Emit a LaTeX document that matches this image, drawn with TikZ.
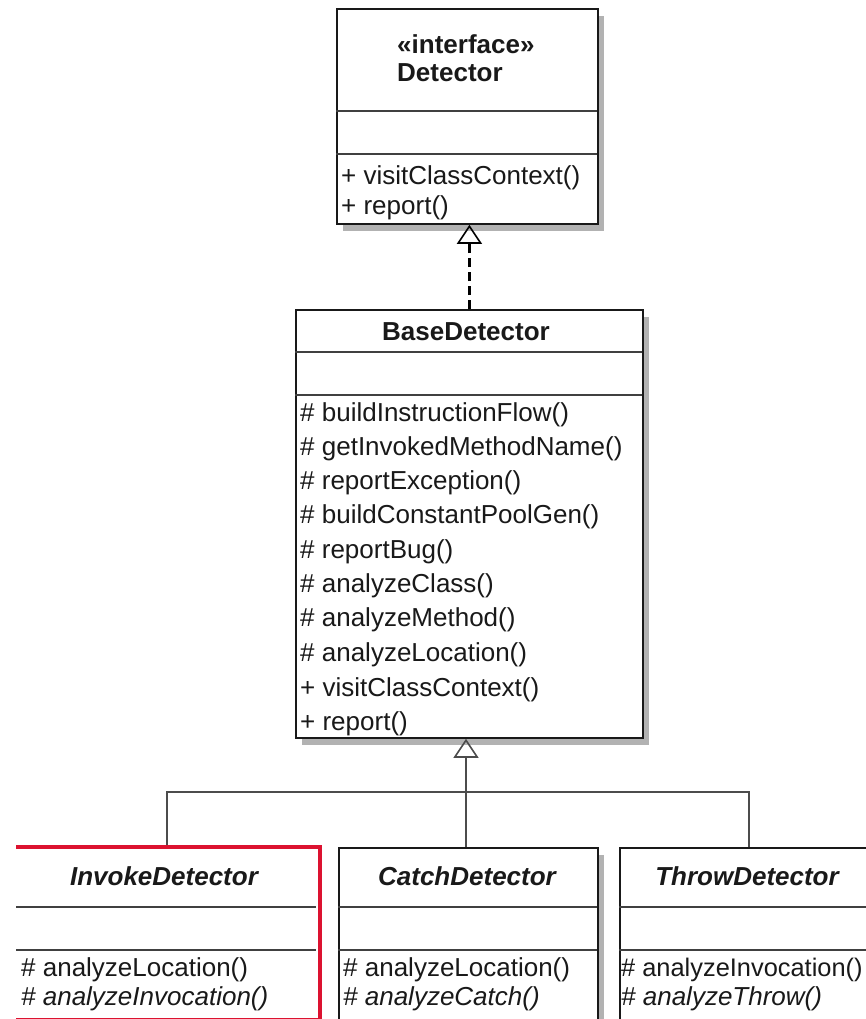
\documentclass[tikz,border=0pt]{standalone}
\usepackage{fontspec}
\setmainfont{Liberation Sans}
\usetikzlibrary{arrows.meta,shadows}
\definecolor{hotred}{RGB}{220,18,48}

\begin{document}
\begin{tikzpicture}[x=1pt,y=-1pt,
  txt/.style={font=\fontsize{26}{30}\selectfont, inner sep=0pt, text=black!90},
  member/.style={txt, anchor=mid west},
  absmember/.style={txt, anchor=mid west, font=\fontsize{26}{30}\selectfont\itshape},
  classname/.style={txt, font=\fontsize{26}{30}\selectfont\bfseries},
  absname/.style={txt, font=\fontsize{26}{30}\selectfont\bfseries\itshape},
  classbox/.style={draw=black!90, line width=1.8pt, fill=white, inner sep=0pt, anchor=north west},
  shadowed/.style={drop shadow={shadow xshift=6pt, shadow yshift=-7pt, fill=black!30, opacity=1}},
  hotbox/.style={classbox, draw=hotred, line width=4pt},
  divider/.style={line width=1.6pt, black!75},
  conn/.style={line width=1.3pt, black!70},
  realize/.style={line width=2.6pt, black, dash pattern=on 9pt off 5pt},
  hollow/.style={-{Triangle[open, length=19pt, width=25pt, line width=1.6pt]}},
]
\useasboundingbox (0,0) rectangle (866,1019);

% interface Detector
\node[classbox, shadowed, minimum width=261pt, minimum height=215pt] (detector) at (336,8) {};
\draw[divider] (336,111) -- (597,111);
\draw[divider] (336,154) -- (597,154);
\node[classname, anchor=west] (stereo) at (397,44) {«interface»};
\node[classname, anchor=west] (detname) at (397,73) {Detector};
\node[member] (d1) at (341,182) {+ visitClassContext()};
\node[member] (d2) at (341,212) {+ report()};

% abstract base class
\node[classbox, shadowed, minimum width=347pt, minimum height=428pt] (base) at (295,309) {};
\draw[divider] (295,352) -- (642,352);
\draw[divider] (295,395) -- (642,395);
\node[classname] (basename) at (466,332) {BaseDetector};
\node[member] (b1)  at (300,419) {\# buildInstructionFlow()};
\node[member] (b2)  at (300,453) {\# getInvokedMethodName()};
\node[member] (b3)  at (300,487) {\# reportException()};
\node[member] (b4)  at (300,521) {\# buildConstantPoolGen()};
\node[member] (b5)  at (300,556) {\# reportBug()};
\node[member] (b6)  at (300,590) {\# analyzeClass()};
\node[member] (b7)  at (300,624) {\# analyzeMethod()};
\node[member] (b8)  at (300,659) {\# analyzeLocation()};
\node[member] (b9)  at (300,694) {+ visitClassContext()};
\node[member] (b10) at (300,728) {+ report()};

% realization of the interface
\draw[realize, hollow] (base.north) -- (base.north |- detector.south);

\begin{scope}
\clip (16,0) rectangle (866,1019);

% concrete detectors
\node[hotbox, minimum width=306pt, minimum height=173pt] (invoke) at (12,845) {};
\draw[divider] (16,907) -- (316,907);
\draw[divider] (16,950) -- (316,950);
\node[absname] (invname) at (164,876) {InvokeDetector};
\node[member] (i1) at (21,974) {\# analyzeLocation()};
\node[absmember] (i2) at (21,1003) {\# analyzeInvocation()};

\node[classbox, shadowed, minimum width=259pt, minimum height=172pt] (catch) at (338,847) {};
\draw[divider] (338,907) -- (597,907);
\draw[divider] (338,950) -- (597,950);
\node[absname] (catchname) at (467,876) {CatchDetector};
\node[member] (c1) at (343,974) {\# analyzeLocation()};
\node[absmember] (c2) at (343,1003) {\# analyzeCatch()};

\node[classbox, shadowed, minimum width=258pt, minimum height=172pt] (throw) at (619,847) {};
\draw[divider] (619,907) -- (877,907);
\draw[divider] (619,950) -- (877,950);
\node[absname] (throwname) at (747,876) {ThrowDetector};
\node[member, font=\fontsize{25.4}{30}\selectfont] (t1) at (621,974) {\# analyzeInvocation()};
\node[absmember] (t2) at (621,1003) {\# analyzeThrow()};
\end{scope}

% generalization tree
\coordinate (fork) at (466,792);
\draw[conn] (invoke.north) -- (invoke.north |- fork) -- (throw.north |- fork) -- (throw.north);
\draw[conn, hollow] (fork |- catch.north) -- (fork |- base.south);
\end{tikzpicture}
\end{document}
